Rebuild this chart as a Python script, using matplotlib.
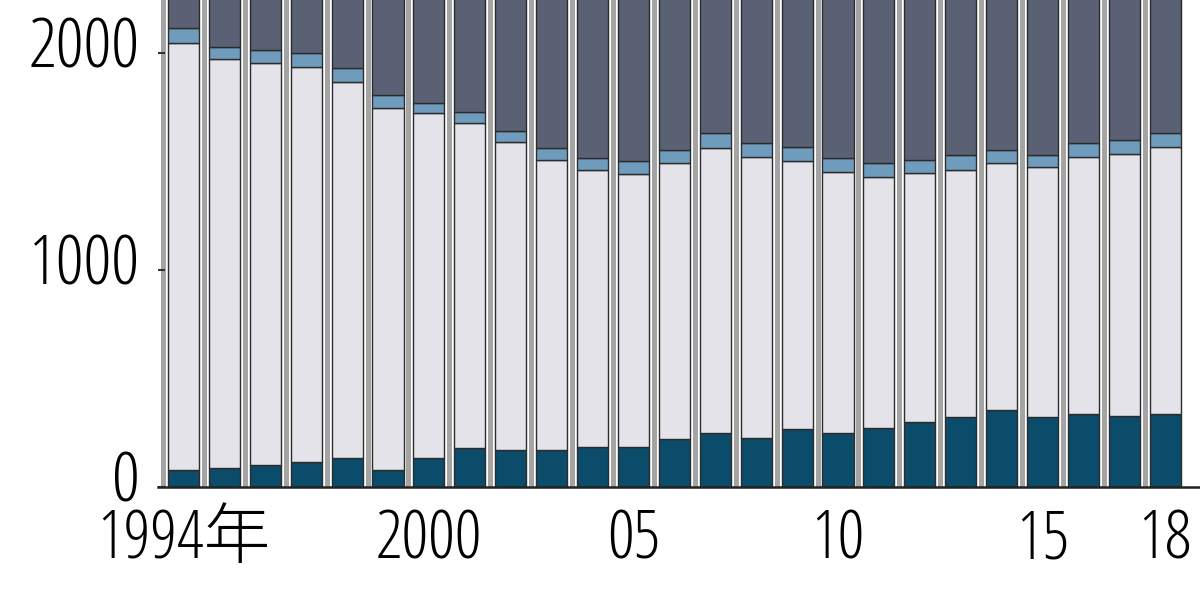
import matplotlib.pyplot as plt
from matplotlib.transforms import ScaledTranslation

years = list(range(1994, 2019))
# stacked segment tops (bottom -> top)
teal = [78, 86, 101, 117, 132, 78, 134, 178, 170, 170, 186, 186, 220, 250, 224, 268,
        247, 270, 301, 324, 355, 324, 335, 327, 335]
light_top = [2046, 1972, 1954, 1935, 1866, 1747, 1724, 1677, 1590, 1507, 1461, 1442, 1493,
             1562, 1521, 1500, 1452, 1429, 1447, 1461, 1493, 1475, 1521, 1535, 1567]
blue_top = [2115, 2028, 2014, 2000, 1931, 1806, 1770, 1730, 1640, 1564, 1518, 1502, 1553,
            1629, 1587, 1565, 1516, 1493, 1507, 1530, 1553, 1530, 1585, 1599, 1631]
# top segment runs off the cropped picture; its height is a guess
dark = [900] * 25

xtick_pos = [0, 6, 11, 16, 21, 24]
xtick_labels = ['1994年', '2000', '05', '10', '15', '18']
ytick_vals = [0, 1000, 2000]

light = [t - b for t, b in zip(light_top, teal)]
blue = [t - b for t, b in zip(blue_top, light_top)]

plt.rcParams['font.family'] = ['Open Sans', 'Noto Sans CJK JP', 'DejaVu Sans']
plt.rcParams['font.stretch'] = 'condensed'
plt.rcParams['font.weight'] = 'light'

fig = plt.figure(figsize=(12, 6), dpi=100)
ax = fig.add_axes([158 / 1200, 113 / 600, 1042 / 1200, 487 / 600])

x = list(range(len(years)))
ax.vlines([i - 0.5 for i in range(len(years))], 0, 2400, color='#a4a4a4', linewidth=3.6, zorder=1)

w = 0.76
ec = '#2b2b2b'
ax.bar(x, teal, w, color='#0a4c6a', edgecolor=ec, linewidth=1, zorder=2)
ax.bar(x, light, w, bottom=teal, color='#e3e3e9', edgecolor=ec, linewidth=1, zorder=2)
ax.bar(x, blue, w, bottom=light_top, color='#6f9cbd', edgecolor=ec, linewidth=1, zorder=2)
ax.bar(x, dark, w, bottom=blue_top, color='#5b6174', edgecolor=ec, linewidth=1, zorder=2)

ax.set_xlim(-0.623, 24.85)
ax.set_ylim(0, 2244)

for s in ['top', 'right', 'left']:
    ax.spines[s].set_visible(False)
ax.spines['bottom'].set_linewidth(1.8)
ax.spines['bottom'].set_color('#222222')
ax.spines['bottom'].set_zorder(3)

ax.set_yticks(ytick_vals)
ax.set_yticklabels([str(v) for v in ytick_vals])
ax.tick_params(axis='y', direction='in', length=5, width=1.5, color='#333333',
               labelsize=50, pad=13)
# nudge the y labels up a little, as in the original
for lab in ax.get_yticklabels():
    lab.set_transform(lab.get_transform() + ScaledTranslation(0, 8 / 72, fig.dpi_scale_trans))

ax.set_xticks(xtick_pos)
ax.set_xticklabels(xtick_labels)
ax.tick_params(axis='x', length=0, labelsize=48, pad=15)

fig.savefig('out.png', dpi=100, facecolor='white')
